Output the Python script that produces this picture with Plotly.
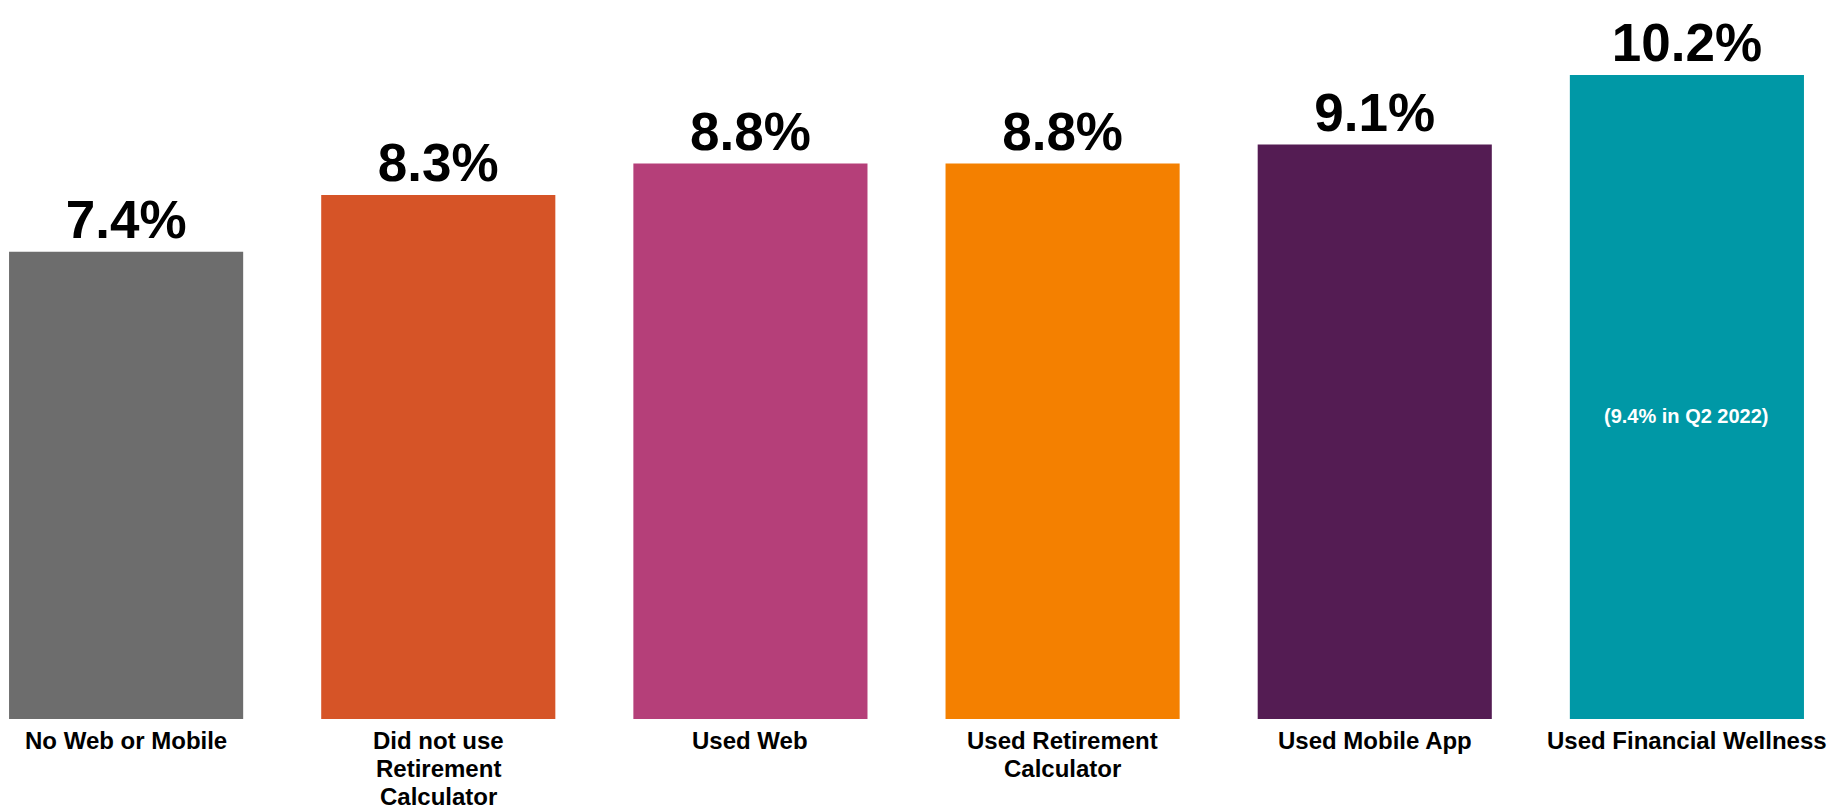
import plotly.graph_objects as go

categories = [
    "No Web or Mobile",
    "Did not use<br>Retirement<br>Calculator",
    "Used Web",
    "Used Retirement<br>Calculator",
    "Used Mobile App",
    "Used Financial Wellness",
]
values = [7.4, 8.3, 8.8, 8.8, 9.1, 10.2]
bar_colors = ["#6d6d6d", "#d65427", "#b53f79", "#f48000", "#541c53", "#0098a6"]
prior_note = "(9.4% in Q2 2022)"

x_pos = list(range(len(categories)))
FONT = "Liberation Sans, Arial, sans-serif"
LABEL_TOP = 21      # px from baseline to centre of first label line
LABEL_STEP = 28     # px between label lines

fig = go.Figure(
    go.Bar(
        x=x_pos,
        y=values,
        marker=dict(color=bar_colors, line=dict(width=0)),
        text=[f"<b>{v:.1f}%</b>" for v in values],
        textposition="outside",
        textfont=dict(family=FONT, size=53, color="#000000"),
        cliponaxis=False,
        width=0.75,
        hoverinfo="skip",
    )
)

# category labels under the bars, one annotation per line for tight spacing
for xi, cat in zip(x_pos, categories):
    for j, line in enumerate(cat.split("<br>")):
        fig.add_annotation(
            x=xi, y=0, xref="x", yref="y",
            xanchor="center", yanchor="middle",
            yshift=-(LABEL_TOP + j * LABEL_STEP),
            text=f"<b>{line}</b>", showarrow=False,
            font=dict(family=FONT, size=24, color="#000000"),
        )

# note inside the last bar
fig.add_annotation(
    x=x_pos[-1], y=4.8, xref="x", yref="y",
    text=f"<b>{prior_note}</b>", showarrow=False,
    font=dict(family=FONT, size=20, color="#ffffff"),
)

fig.update_layout(
    width=1833, height=808,
    margin=dict(l=0, r=0, t=0, b=89),
    paper_bgcolor="#ffffff", plot_bgcolor="#ffffff",
    showlegend=False,
    xaxis=dict(
        range=[-0.404, 5.468],
        showticklabels=False,
        showgrid=False, zeroline=False, showline=False, ticks="",
        automargin=False,
    ),
    yaxis=dict(range=[0, 11.39], visible=False, showgrid=False, zeroline=False,
               automargin=False),
)

fig.write_html("out.html")
